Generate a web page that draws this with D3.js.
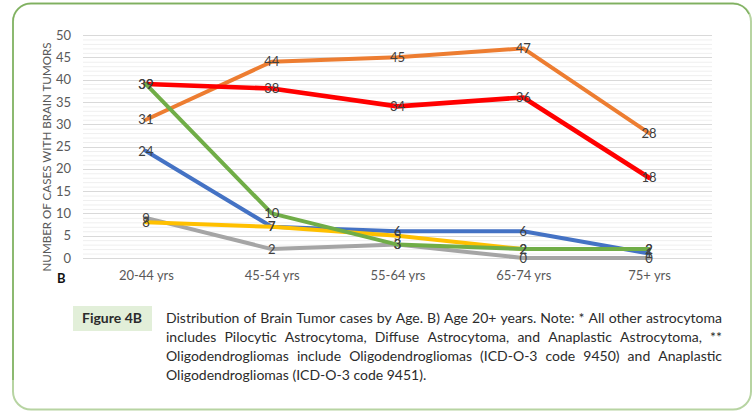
<!DOCTYPE html>
<html>
<head>
<meta charset="utf-8">
<script src="https://cdn.jsdelivr.net/npm/d3@7"></script>
<style>
  body { margin: 0; background: #fff; }
  svg { display: block; font-family: Lato, 'Noto Sans', sans-serif; }
</style>
</head>
<body>
<svg id="chart" width="756" height="418"></svg>
<script>
(function() {

  'use strict';

  // values
  var ageGroups = ['20-44 yrs', '45-54 yrs', '55-64 yrs', '65-74 yrs', '75+ yrs'];
  var blueCases = [24, 7, 6, 6, 1];
  var orangeCases = [31, 44, 45, 47, 28];
  var grayCases = [9, 2, 3, 0, 0];
  var yellowCases = [8, 7, 5, 2, 2];
  var redCases = [39, 38, 34, 36, 18];
  var greenCases = [39, 10, 3, 2, 2];
  var yTicks = [0, 5, 10, 15, 20, 25, 30, 35, 40, 45, 50];

  var captionLines = [
    'Distribution of Brain Tumor cases by Age. B) Age 20+ years. Note: * All other astrocytoma',
    'includes Pilocytic Astrocytoma, Diffuse Astrocytoma, and Anaplastic Astrocytoma, **',
    'Oligodendrogliomas include Oligodendrogliomas (ICD-O-3 code 9450) and Anaplastic',
    'Oligodendrogliomas (ICD-O-3 code 9451).'
  ];

  // draw order follows the spreadsheet series order
  var series = [
    {values: blueCases, color: '#4472c4', width: 4},
    {values: orangeCases, color: '#ed7d31', width: 4},
    {values: grayCases, color: '#a5a5a5', width: 4},
    {values: yellowCases, color: '#ffc000', width: 4},
    {values: redCases, color: '#ff0000', width: 4.6},
    {values: greenCases, color: '#70ad47', width: 4}
  ];

  var svg = d3.select('#chart');
  var plot = {left: 83, right: 712, top: 35, bottom: 258};
  var textColor = '#595959';

  // frame
  function framePath(x0, y0, x1, y1, r) {
    return 'M' + (x0 + r) + ',' + y0 + 'H' + (x1 - r) +
      'A' + r + ',' + r + ' 0 0 1 ' + x1 + ',' + (y0 + r) +
      'V' + (y1 - r) + 'A' + r + ',' + r + ' 0 0 1 ' + (x1 - r) + ',' + y1 +
      'H' + (x0 + r) + 'A' + r + ',' + r + ' 0 0 1 ' + x0 + ',' + (y1 - r) +
      'V' + (y0 + r) + 'A' + r + ',' + r + ' 0 0 1 ' + (x0 + r) + ',' + y0 + 'Z';
  }
  svg.append('path')
    .attr('d', framePath(13, 3.5, 751, 409.5, 18))
    .attr('fill', 'none')
    .attr('stroke', '#b7d4a2')
    .attr('stroke-width', 2);
  svg.append('path')
    .attr('d', 'M13,380V21.5A18,18 0 0 1 31,3.5H733A18,18 0 0 1 749,14')
    .attr('fill', 'none')
    .attr('stroke', '#7fb060')
    .attr('stroke-width', 1.5);

  var x = d3.scalePoint()
    .domain(ageGroups)
    .range([plot.left, plot.right])
    .padding(0.5);

  var y = d3.scaleLinear()
    .domain([0, 50])
    .range([plot.bottom, plot.top]);

  // minor then major gridlines
  svg.append('g').attr('class', 'grid-minor')
    .selectAll('line').data(d3.range(0, 51).filter(function(v) { return v % 5 !== 0; }))
    .enter().append('line')
    .attr('x1', plot.left).attr('x2', plot.right)
    .attr('y1', function(d) { return y(d) + 0.5; })
    .attr('y2', function(d) { return y(d) + 0.5; })
    .attr('stroke', '#efefef');

  svg.append('g').attr('class', 'grid-major')
    .selectAll('line').data(yTicks)
    .enter().append('line')
    .attr('x1', plot.left).attr('x2', plot.right)
    .attr('y1', function(d) { return Math.round(y(d)) + 0.5; })
    .attr('y2', function(d) { return Math.round(y(d)) + 0.5; })
    .attr('stroke', '#d9d9d9');

  // axes (labels only, like the original)
  var yAxis = svg.append('g')
    .attr('transform', 'translate(' + plot.left + ',0)')
    .call(d3.axisLeft(y).tickValues(yTicks).tickSize(0).tickPadding(12));
  yAxis.select('.domain').remove();
  yAxis.selectAll('text')
    .attr('fill', textColor)
    .style('font-family', 'Lato, sans-serif')
    .style('font-size', '13px');

  var xAxis = svg.append('g')
    .attr('transform', 'translate(0,' + plot.bottom + ')')
    .call(d3.axisBottom(x).tickSize(0).tickPadding(13));
  xAxis.select('.domain').remove();
  xAxis.selectAll('text')
    .attr('fill', textColor)
    .style('font-family', 'Lato, sans-serif')
    .style('font-size', '13px');

  svg.append('text')
    .attr('transform', 'translate(51,157) rotate(-90)')
    .attr('text-anchor', 'middle')
    .attr('fill', textColor)
    .style('font-size', '11.6px')
    .text('NUMBER OF CASES WITH BRAIN TUMORS');

  svg.append('text')
    .attr('x', 57).attr('y', 283)
    .attr('font-weight', 'bold')
    .attr('fill', '#111')
    .style('font-size', '13px')
    .text('B');

  // lines
  var line = d3.line()
    .x(function(d, i) { return x(ageGroups[i]); })
    .y(function(d) { return y(d); });

  svg.append('g').attr('class', 'lines')
    .selectAll('path').data(series)
    .enter().append('path')
    .attr('d', function(s) { return line(s.values); })
    .attr('fill', 'none')
    .attr('stroke', function(s) { return s.color; })
    .attr('stroke-width', function(s) { return s.width; })
    .attr('stroke-linejoin', 'round')
    .attr('stroke-linecap', 'round');

  // data labels, centred on the points
  var labels = svg.append('g').attr('class', 'labels');
  series.forEach(function(s) {
    labels.selectAll(null).data(s.values)
      .enter().append('text')
      .attr('x', function(d, i) { return x(ageGroups[i]); })
      .attr('y', function(d) { return y(d); })
      .attr('dy', '0.36em')
      .attr('text-anchor', 'middle')
      .attr('fill', '#404040')
      .style('font-size', '13px')
      .text(function(d) { return d; });
  });

  // caption
  svg.append('rect')
    .attr('x', 73).attr('y', 306)
    .attr('width', 79).attr('height', 25)
    .attr('fill', '#e2efd9');
  svg.append('text')
    .attr('x', 112).attr('y', 323)
    .attr('text-anchor', 'middle')
    .attr('font-weight', 'bold')
    .attr('fill', '#2b2b2b')
    .style('font-size', '14px')
    .text('Figure 4B');

  var cap = svg.append('g').attr('class', 'caption')
    .attr('fill', '#2b2b2b')
    .style('font-size', '14px');
  var capLeft = 166, capRight = 722;

  captionLines.forEach(function(str, li) {
    var yy = 323 + li * 19;
    var words = str.split(' ');
    if (li === captionLines.length - 1) {
      cap.append('text').attr('x', capLeft).attr('y', yy).text(str);
      return;
    }
    var nodes = words.map(function(w) {
      return cap.append('text').attr('y', yy).text(w);
    });
    var widths = nodes.map(function(n) { return n.node().getComputedTextLength(); });
    var gap = (capRight - capLeft - d3.sum(widths)) / (words.length - 1);
    var pos = capLeft;
    nodes.forEach(function(n, i) {
      n.attr('x', pos);
      pos += widths[i] + gap;
    });
  });

})();
</script>
</body>
</html>
